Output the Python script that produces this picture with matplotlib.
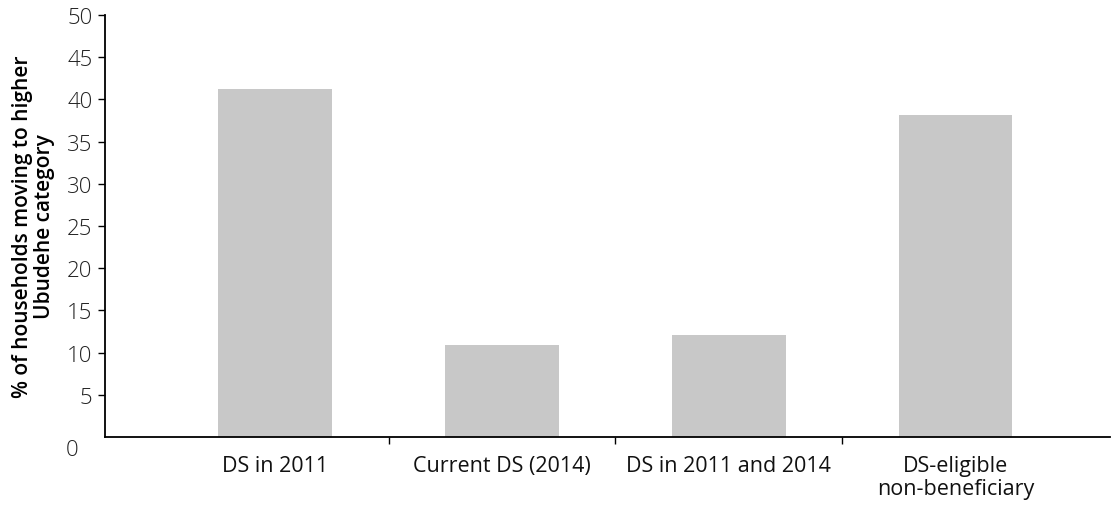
import matplotlib
matplotlib.use("Agg")
import matplotlib.pyplot as plt
import matplotlib.transforms as mtransforms
import numpy as np

categories = ["DS in 2011", "Current DS (2014)", "DS in 2011 and 2014", "DS-eligible\nnon-beneficiary"]
values = [41.2, 10.9, 12.1, 38.2]
yticks = [0, 5, 10, 15, 20, 25, 30, 35, 40, 45, 50]

plt.rcParams['font.family'] = ['Open Sans', 'DejaVu Sans']

fig = plt.figure(figsize=(11.15, 5.06), dpi=100)
ax = fig.add_axes([105/1115, 1-438/506, (1110-105)/1115, (438-16)/506])

x = np.arange(len(categories))
ax.bar(x, values, width=0.5, color="#c8c8c8", edgecolor="none", zorder=2)

ax.set_xlim(-0.75, 3.68)
ax.set_ylim(0, 50)
ax.set_yticks(yticks)
ax.set_yticklabels([str(v) for v in yticks], fontsize=16, fontweight='light', color="#222222")
ax.tick_params(axis='y', length=5, width=1, pad=4, color='black')

ax.set_xticks(x)
ax.set_xticklabels(categories, fontsize=15.5, color="#111111", linespacing=1.1)
ax.tick_params(axis='x', which='major', length=0, pad=13)
ax.set_xticks(x[:-1] + 0.5, minor=True)
ax.tick_params(axis='x', which='minor', length=5, width=1, color='black')

for s in ['top', 'right']:
    ax.spines[s].set_visible(False)
for s in ['left', 'bottom']:
    ax.spines[s].set_linewidth(1.3)
    ax.spines[s].set_color('black')

# no tick mark at 0; the "0" label sits slightly below/left of its tick in the reference
ax.yaxis.get_major_ticks()[0].tick1line.set_visible(False)
zero_lbl = ax.get_yticklabels()[0]
zero_lbl.set_transform(zero_lbl.get_transform() +
                       mtransforms.ScaledTranslation(-14/100, -10/100, fig.dpi_scale_trans))

ax.set_ylabel("% of households moving to higher\nUbudehe category", fontsize=15,
              fontweight='semibold', labelpad=8, linespacing=1.05)

fig.savefig("out.png", dpi=100)
